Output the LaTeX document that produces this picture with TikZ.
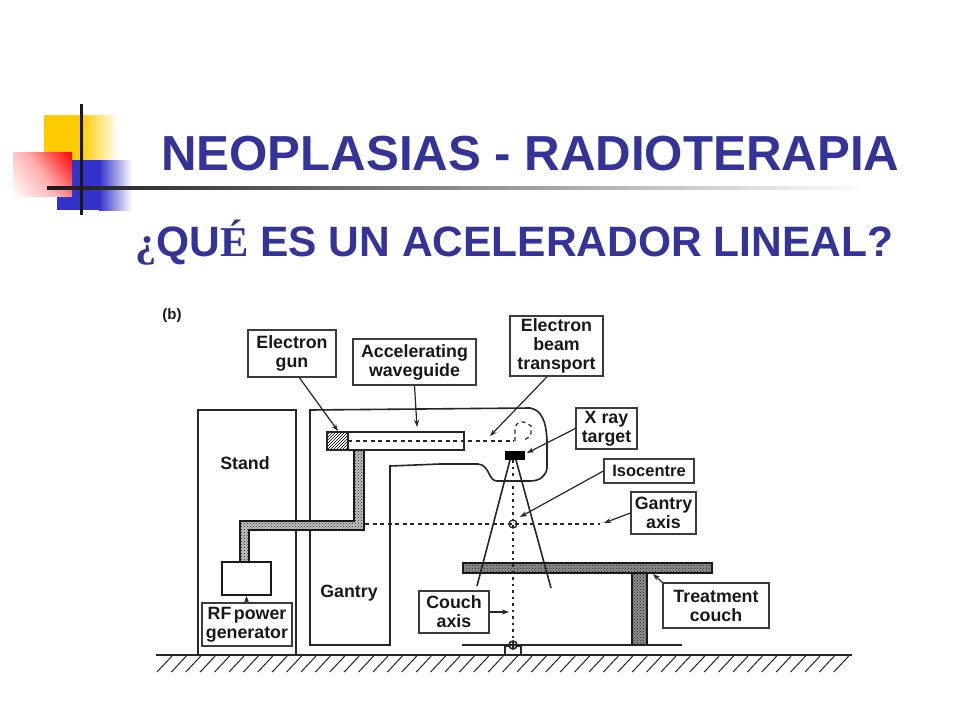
\documentclass[tikz,border=0pt]{standalone}
\usepackage{fontspec}
\setmainfont{Liberation Sans}
\newfontfamily\accentfont{Liberation Serif}
\usetikzlibrary{arrows.meta,patterns}
\definecolor{slideblue}{RGB}{51,51,153}
\definecolor{squareblue}{RGB}{51,51,204}
\definecolor{squareyellow}{RGB}{255,204,0}
\definecolor{inkgray}{RGB}{60,60,60}
\pgfdeclareverticalshading{redfade}{100bp}{color(0bp)=(white); color(15bp)=(white); color(50bp)=(red!32); color(85bp)=(red); color(100bp)=(red)}

\begin{document}
\begin{tikzpicture}[
    x=1pt, y=-1pt,
    callout/.style={draw=inkgray, line width=1.3pt, fill=white, inner sep=0pt, align=center,
        text=black!90, font=\bfseries\fontsize{17.8}{19}\selectfont},
    plain/.style={inner sep=0pt, text=black!90, font=\bfseries\fontsize{17.8}{19}\selectfont},
    leader/.style={line width=1.2pt, draw=black!85, -{Stealth[length=7pt,width=5pt]}},
    wall/.style={line width=1.6pt, draw=black!85},
    beam/.style={line width=1.4pt, draw=black!85, dash pattern=on 4pt off 3.5pt},
    axisline/.style={line width=2pt, draw=black!85, dash pattern=on 2.5pt off 4pt},
    dots/.style={draw=black!90, line width=1.8pt, pattern=crosshatch dots, pattern color=black!85},
    heading/.style={anchor=west, inner sep=0pt, text=slideblue}
]
    \useasboundingbox (0,0) rectangle (960,720);
    \fill[white] (0,0) rectangle (960,720);

    % corner squares
    \fill[squareyellow] (44,115) rectangle (83,160);
    \shade[left color=squareyellow, right color=white] (82,115) rectangle (118,160);
    \fill[squareblue] (57,160) rectangle (100,210);
    \shade[left color=squareblue, right color=white] (99,160) rectangle (132,210);
    \shade[shading=redfade, shading angle=-53] (13,152) rectangle (72,196);
    \shade[left color=black!90, right color=white] (47,186.5) rectangle (870,189.5);
    \fill[black!90] (79.5,104) rectangle (82.5,215);

    % titles
    \node[heading, font=\bfseries\fontsize{49.2}{50}\selectfont] (maintitle) at (161,154) {NEOPLASIAS - RADIOTERAPIA};
    \node[heading, font=\bfseries\fontsize{42.5}{44}\selectfont] (subtitle) at (135,243)
        {{\accentfont ¿}QU{\accentfont É} ES UN ACELERADOR LINEAL?};

    \node[plain, font=\bfseries\fontsize{15}{17}\selectfont] (panel) at (172,316) {(b)};

    % floor
    \draw[wall] (156,655) -- (852,655);
    \foreach \i in {0,...,47}
        \draw[line width=1pt, black!85] (172+14.4*\i,656) -- (157+14.4*\i,672);

    % stand and gantry
    \draw[wall] (198,655) -- (198,410) -- (296,410) -- (296,655);
    \draw[wall] (390,645) -- (310,645) -- (310,410) -- (530,408)
        .. controls (541,410) and (546,420) .. (547,440) -- (547,468)
        .. controls (546,476) and (540,481) .. (530,481) -- (497,481)
        .. controls (488,481) and (490,465) .. (478,464) -- (440,464) -- (390,466) -- cycle;

    % waveguide
    \draw[dots, preaction={fill=black!25}] (240,562) -- (240,521) -- (354,521) -- (354,450) -- (364,450) -- (364,530) -- (249,530) -- (249,562);
    \draw[wall, fill=white] (327,432) rectangle (464,450);
    \draw[wall, pattern=north east lines] (327,432) rectangle (348,450);
    \draw[beam] (348,441) -- (514,441);
    \draw[beam, line width=1.2pt] (515,441) -- (515,428)
        .. controls (516,422) and (523,419) .. (531,426) -- (531,433) .. controls (530,437) and (527,439) .. (523,440);

    % target and axes
    \node[fill=black, minimum width=20pt, minimum height=9pt, inner sep=0pt] (target) at (515,455.5) {};
    \coordinate (isocentre) at (513,524);
    \coordinate (pivot) at (513,645);
    \draw[beam] (365,524) -- (600,524);
    \draw[line width=1.3pt, black!85] (isocentre) circle (4);

    % couch
    \draw[dots, preaction={fill=black!45}] (632,573) rectangle (647,645);
    \draw[dots, preaction={fill=black!45}] (463,563) rectangle (712,573);
    \draw[axisline] (target.south -| isocentre) -- (pivot);
    \draw[wall] (462,645) -- (682,645);
    \draw[wall] (505,655) -- (505,646) -- (521,646) -- (521,655);
    \draw[line width=1.6pt, black!85, fill=white] (pivot) circle (4);
    \draw[line width=1.2pt, black!85] (509,645) -- (517,645) (pivot) ++(0,-4) -- ++(0,8);

    % beam edges
    \coordinate (beamleft) at (477,586);
    \coordinate (beamright) at (551,588);
    \draw[wall] (510,460) -- (beamleft);
    \draw[wall] (516,460) -- (beamright);

    % RF source
    \node[draw=black!90, line width=1.8pt, fill=white, minimum width=49pt, minimum height=33pt, inner sep=0pt] (rfbox) at (246.5,578.5) {};

    % labels
    \node[plain] (stand) at (245,463) {Stand};
    \node[plain] (gantry) at (349,593) {Gantry};
    \node[callout, minimum width=88pt, minimum height=47pt] (gunlbl) at (292,353.5) {Electron\\gun};
    \node[callout, minimum width=123pt, minimum height=46pt] (wavelbl) at (414.5,362) {Accelerating\\waveguide};
    \node[callout, minimum width=93pt, minimum height=60pt] (transportlbl) at (556.5,346) {Electron\\beam\\transport};
    \node[callout, minimum width=61pt, minimum height=41pt] (xraylbl) at (606.5,428.5) {X ray\\target};
    \node[callout, minimum width=90pt, minimum height=24pt, font=\bfseries\fontsize{16.5}{19}\selectfont] (isolbl) at (649,471) {Isocentre};
    \node[callout, minimum width=65pt, minimum height=42pt] (axislbl) at (663.5,513) {Gantry\\axis};
    \node[callout, minimum width=106pt, minimum height=45pt] (couchlbl) at (716,605.5) {Treatment\\couch};
    \node[callout, minimum width=70pt, minimum height=42pt] (couchaxis) at (454,612) {Couch\\axis};
    \node[callout, minimum width=90pt, minimum height=43pt] (rflbl) at (247,624.5) {RF\hspace{2.5pt}power\\generator};

    % leaders
    \coordinate (guntip) at (338,431);
    \coordinate (wavetip) at (417,427);
    \coordinate (transporttip) at (490,436);
    \coordinate (xraytip) at (527,453);
    \coordinate (isotip) at (520,517);
    \coordinate (axistip) at (604,523);
    \coordinate (couchtip) at (653,574);
    \coordinate (couchaxistip) at (509,612);
    \draw[leader] (gunlbl.-73) -- (guntip);
    \draw[leader] (wavelbl.south) -- (wavetip);
    \draw[leader] (transportlbl.-107) -- (transporttip);
    \draw[leader] (xraylbl.west) -- (xraytip);
    \draw[leader] (isolbl.west) -- (isotip);
    \draw[leader] (axislbl.west) -- (axistip);
    \draw[leader] (couchlbl.north west) -- (couchtip);
    \draw[leader] (couchaxis.east) -- (couchaxistip);
    \draw[leader] (rflbl.north -| rfbox) -- (rfbox.south);
\end{tikzpicture}
\end{document}
